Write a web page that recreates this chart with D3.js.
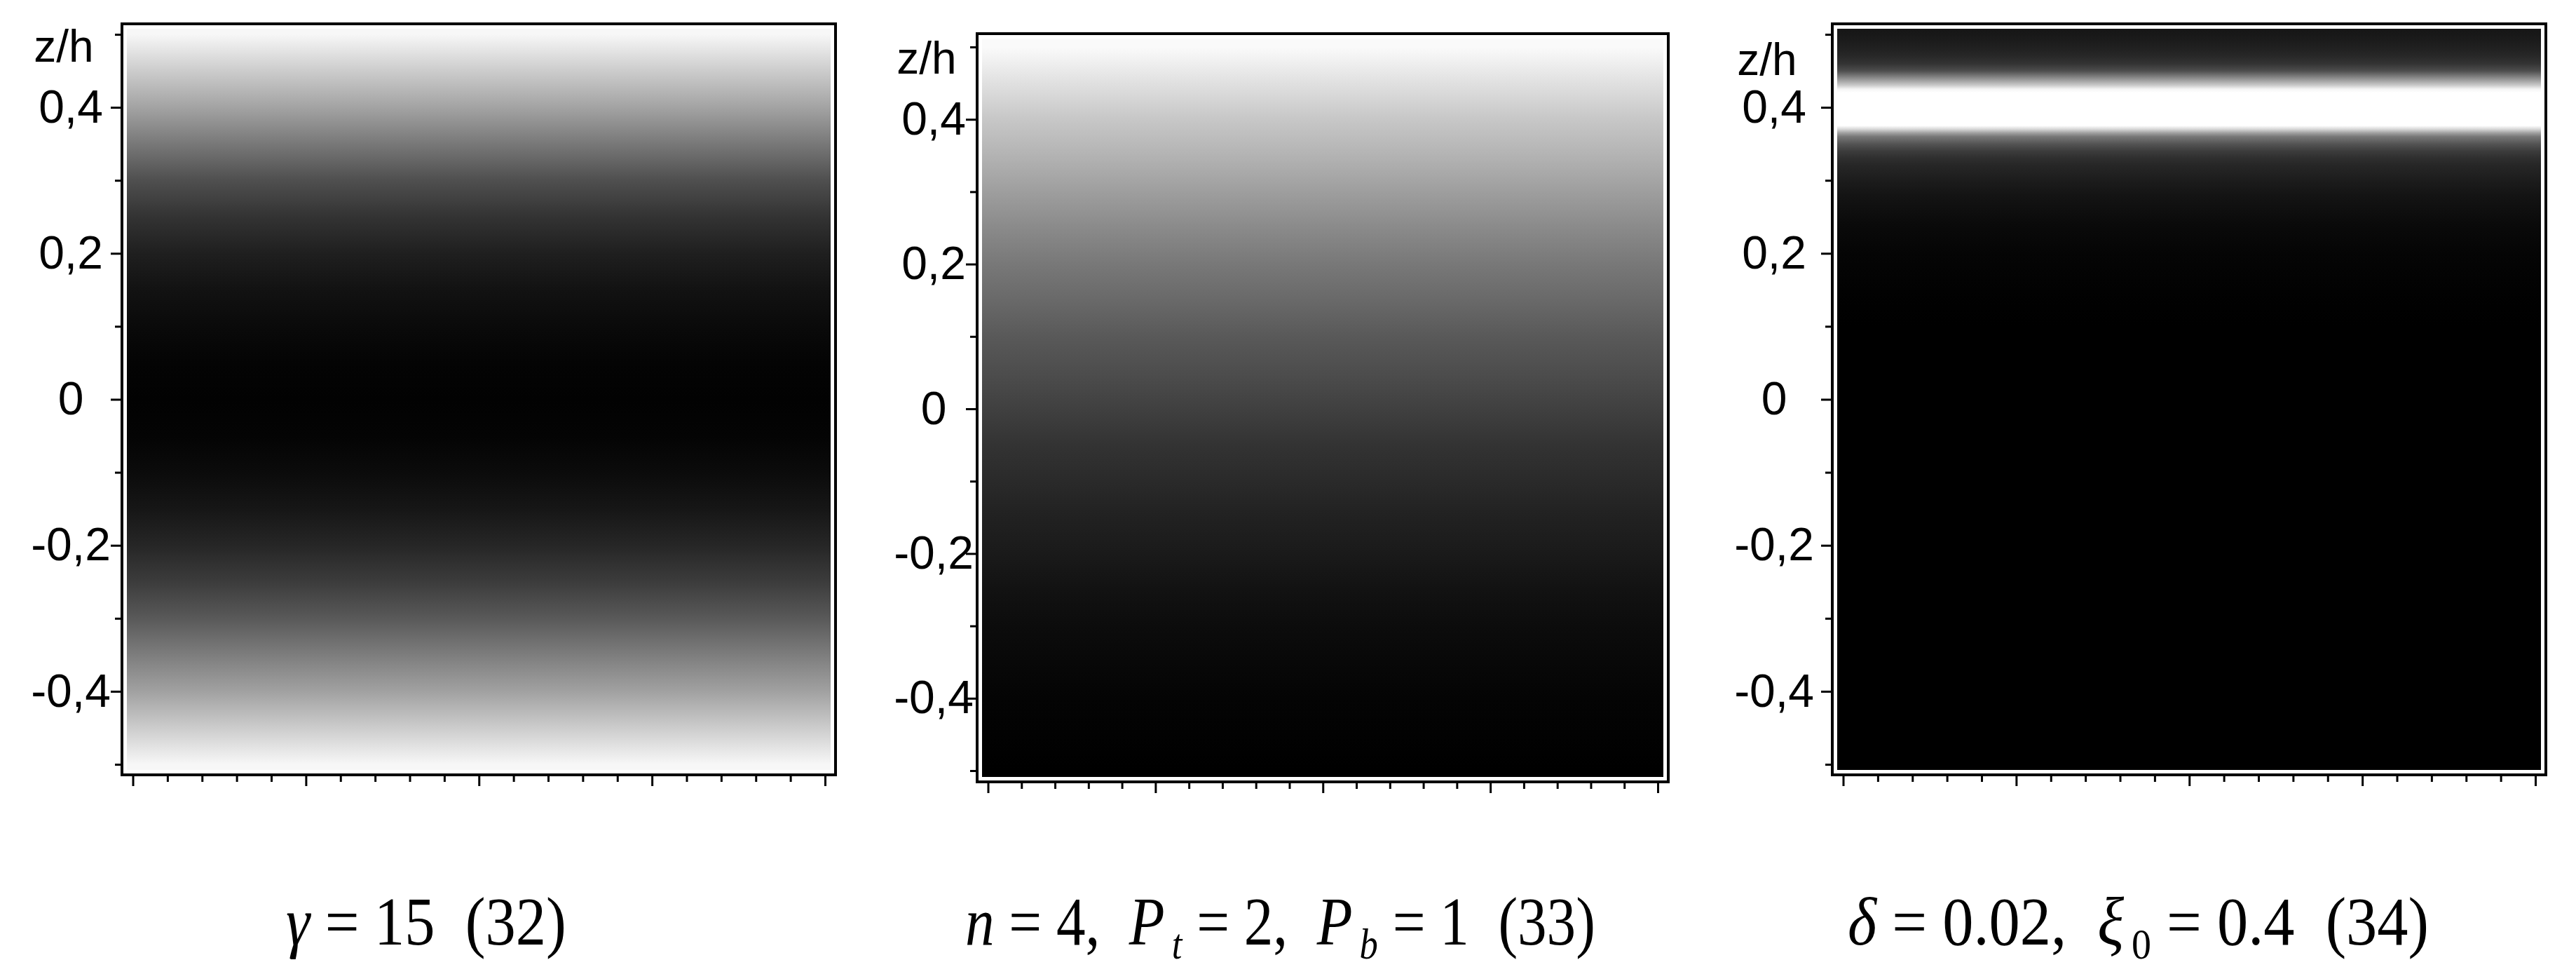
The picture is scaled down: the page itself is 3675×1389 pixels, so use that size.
<!DOCTYPE html>
<html>
<head>
<meta charset="utf-8">
<script src="https://cdn.jsdelivr.net/npm/d3@7"></script>
<style>
  body { margin: 0; background: #fff; }
  .ax text { font-family: "Liberation Sans", Arial, sans-serif; }
  .cap { font-family: "Liberation Serif", "Times New Roman", serif; white-space: pre; }
</style>
</head>
<body>
<svg id="sg"></svg>
<script>
const zLevels = [0.5, 0.45, 0.4, 0.35, 0.3, 0.25, 0.2, 0.15, 0.1, 0.05, 0, -0.05, -0.1, -0.15, -0.2, -0.25, -0.3, -0.35, -0.4, -0.45, -0.5];
// brightness, 0 = black, 1 = white
const shade32 = [0.97, 0.8, 0.64, 0.47, 0.31, 0.2, 0.12, 0.07, 0.04, 0.015, 0.008, 0.015, 0.045, 0.085, 0.15, 0.235, 0.35, 0.49, 0.63, 0.8, 0.97];
const shade33 = [0.98, 0.88, 0.78, 0.7, 0.62, 0.54, 0.47, 0.41, 0.35, 0.3, 0.25, 0.2, 0.165, 0.13, 0.1, 0.07, 0.047, 0.03, 0.016, 0.008, 0];
// finer levels for the narrow band of (34)
const zBand = [0.51, 0.5, 0.49, 0.48, 0.47, 0.46, 0.45, 0.44, 0.43, 0.425, 0.42, 0.375, 0.37, 0.365, 0.36, 0.35, 0.34, 0.33, 0.32, 0.3, 0.28, 0.26, 0.24, 0.2, 0.15, 0.1, -0.51];
const shade34 = [0.086, 0.094, 0.11, 0.13, 0.157, 0.2, 0.3, 0.55, 0.8, 0.96, 1, 1, 0.84, 0.63, 0.47, 0.33, 0.235, 0.18, 0.15, 0.11, 0.078, 0.059, 0.039, 0.02, 0.008, 0, 0];

const yMajor = [0.4, 0.2, 0, -0.2, -0.4];
const yMajorLabels = ["0,4", "0,2", "0", "-0,2", "-0,4"];
const yMinor = [0.5, 0.3, 0.1, -0.1, -0.3, -0.5];
const yName = "z/h";
const xTicks = d3.range(21).map(i => i / 20);

const captions = [
  [["γ", "i"], [" = 15  (32)"]],
  [["n", "i"], [" = 4,  "], ["P", "i"], ["t", "i", "sub"], [" = 2,  "], ["P", "i"], ["b", "i", "sub"], [" = 1  (33)"]],
  [["δ", "i"], [" = 0.02,  "], ["ξ", "i"], ["0", "", "sub"], [" = 0.4  (34)"]]
];

let svgWidth = 3675,
  svgHeight = 1389;
let svg = d3.select("#sg").attr("width", svgWidth).attr("height", svgHeight);
svg.append("rect").attr("width", svgWidth).attr("height", svgHeight).attr("fill", "#fff");
let defs = svg.append("defs");
let color = d3.scaleLinear().domain([0, 1]).range(["#000", "#fff"]);

let panels = [
  { z: zLevels, v: shade32, x0: 174, x1: 1192, top: 34, bottom: 1105, yTop: 49, yBot: 1090, labelDx: 73, nameDy: 39, capX: 408, capW: 400 },
  { z: zLevels, v: shade33, x0: 1394, x1: 2380, top: 48, bottom: 1115, yTop: 67, yBot: 1099, labelDx: 62, nameDy: 38, capX: 1377, capW: 899 },
  { z: zBand, v: shade34, x0: 2614, x1: 3632, top: 34, bottom: 1105, yTop: 49, yBot: 1090, labelDx: 83, nameDy: 58, capX: 2636, capW: 829 }
];
let inset = 7;

panels.forEach(function(p, k) {
  let y = d3.scaleLinear().domain([-0.5, 0.5]).range([p.yBot, p.yTop]);
  let x = d3.scaleLinear().domain([0, 1]).range([p.x0 + 15.5, p.x1 - 15]);

  // vertical gradient built from the shade readings
  let gy1 = p.top + inset,
    gy2 = p.bottom - inset;
  let grad = defs.append("linearGradient")
    .attr("id", "g" + k)
    .attr("gradientUnits", "userSpaceOnUse")
    .attr("x1", 0).attr("x2", 0)
    .attr("y1", gy1).attr("y2", gy2);
  grad.selectAll("stop")
    .data(p.z.map((z, i) => ({ z: z, v: p.v[i] })))
    .enter()
    .append("stop")
    .attr("offset", d => Math.max(0, Math.min(1, (y(d.z) - gy1) / (gy2 - gy1))))
    .attr("stop-color", d => color(d.v));

  svg.append("rect")
    .attr("x", p.x0 + inset)
    .attr("y", gy1)
    .attr("width", p.x1 - p.x0 - 2 * inset)
    .attr("height", gy2 - gy1)
    .attr("fill", "url(#g" + k + ")");

  svg.append("rect")
    .attr("x", p.x0)
    .attr("y", p.top)
    .attr("width", p.x1 - p.x0)
    .attr("height", p.bottom - p.top)
    .attr("fill", "none")
    .attr("stroke", "#000")
    .attr("stroke-width", 4);

  // y axis: short ticks, long labelled ticks
  let gMinor = svg.append("g")
    .attr("class", "ax")
    .attr("transform", "translate(" + p.x0 + ",0)")
    .call(d3.axisLeft(y).tickValues(yMinor).tickSize(10).tickFormat(""));
  let gMajor = svg.append("g")
    .attr("class", "ax")
    .attr("transform", "translate(" + p.x0 + ",0)")
    .call(d3.axisLeft(y).tickValues(yMajor).tickSize(16).tickFormat((d, i) => yMajorLabels[i]));
  [gMinor, gMajor].forEach(function(g) {
    g.select(".domain").remove();
    g.selectAll("line").attr("stroke-width", 3);
  });
  gMajor.selectAll("text")
    .attr("x", -p.labelDx)
    .attr("text-anchor", "middle")
    .attr("font-size", 66)
    .attr("fill", "#000");

  svg.append("text")
    .attr("x", p.x0 - p.labelDx - 10)
    .attr("y", y(0.5) + p.nameDy)
    .attr("text-anchor", "middle")
    .attr("font-size", 64)
    .style("font-family", "Liberation Sans, Arial, sans-serif")
    .text(yName);

  // x axis ticks, no labels
  let gx = svg.append("g")
    .attr("transform", "translate(0," + p.bottom + ")")
    .call(d3.axisBottom(x).tickValues(xTicks).tickSize(10).tickFormat(""));
  gx.select(".domain").remove();
  gx.selectAll("line")
    .attr("stroke-width", 3)
    .attr("y2", (d, i) => (i % 5 === 0 ? 16 : 10));

  // caption, squeezed horizontally like the typeset original
  let t = svg.append("text")
    .attr("class", "cap")
    .attr("x", 0)
    .attr("y", 0)
    .attr("font-size", 98);
  let wasSub = false;
  captions[k].forEach(function(part) {
    let s = t.append("tspan").text(part[0]);
    if (part[1] === "i") s.attr("font-style", "italic");
    if (part[2] === "sub") {
      s.attr("font-size", 62).attr("dy", 20).attr("dx", 12);
    } else if (wasSub) {
      s.attr("dy", -20);
    }
    wasSub = part[2] === "sub";
  });
  let w = t.node().getBBox().width;
  t.attr("transform", "translate(" + p.capX + ",1347) scale(" + (p.capW / w) + ",1)");
});
</script>
</body>
</html>
